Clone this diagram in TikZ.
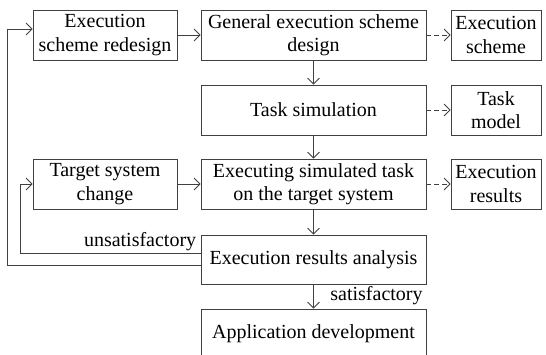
\documentclass[tikz,border=0pt]{standalone}
\usepackage{fontspec}
\setmainfont{Liberation Serif}
\newfontfamily\tms{Liberation Serif}
\usetikzlibrary{arrows.meta}
\begin{document}
\begin{tikzpicture}[x=1pt,y=-1pt,
  line width=0.8pt,
  font=\tms\fontsize{20}{23.5}\selectfont,
  box/.style={draw=black!75, align=center, inner sep=0pt, text=black},
  wide/.style={box, minimum width=225pt, minimum height=50pt},
  lft/.style={box, minimum width=144pt, minimum height=50pt},
  rgt/.style={box, minimum width=90pt, minimum height=50pt},
  arr/.style={draw=black!75, -{Straight Barb[length=6pt,width=12pt]}},
  darr/.style={arr, dash pattern=on 4.5pt off 3.5pt},
  lbl/.style={inner sep=0pt, text=black}]
\useasboundingbox (0,0) rectangle (546,354);
\node[lft]  (b1) at (105,35)    {Execution\\scheme redesign};
\node[wide] (b2) at (313.5,35)  {General execution scheme\\design};
\node[rgt]  (b3) at (496,35)    {Execution\\scheme};
\node[wide] (ts) at (313.5,110) {Task simulation};
\node[rgt]  (tm) at (496,110)   {Task\\model};
\node[lft]  (tc) at (105,184)   {Target system\\change};
\node[wide] (ex) at (313.5,184) {Executing simulated task\\on the target system};
\node[rgt]  (er) at (496,184)   {Execution\\results};
\node[wide, minimum height=49pt] (an) at (313.5,259.5) {Execution results analysis};
\node[wide] (ad) at (313.5,334) {Application development};

\draw[arr] (b1) -- (b2);
\draw[arr] (tc) -- (ex);
\draw[darr] (b2) -- (b3);
\draw[darr] (ts) -- (tm);
\draw[darr] (ex) -- (er);
\draw[arr] (b2) -- (ts);
\draw[arr] (ts) -- (ex);
\draw[arr] (ex) -- (an);
\draw[arr] (an) -- (ad);

\draw[arr] ([yshift=6.5pt]an.west) -| ([xshift=-12pt]tc.west) -- (tc.west);
\draw[arr] ([yshift=-5.5pt]an.west) -| ([xshift=-25pt,yshift=6pt]b1.west) -- ([yshift=6pt]b1.west);

\node[lbl, anchor=base east] (u) at ([xshift=-4pt,yshift=13.5pt]an.west) {unsatisfactory};
\node[lbl, anchor=base west] (s) at ([xshift=16.5pt,yshift=-16.5pt]an.south) {satisfactory};
\end{tikzpicture}
\end{document}
